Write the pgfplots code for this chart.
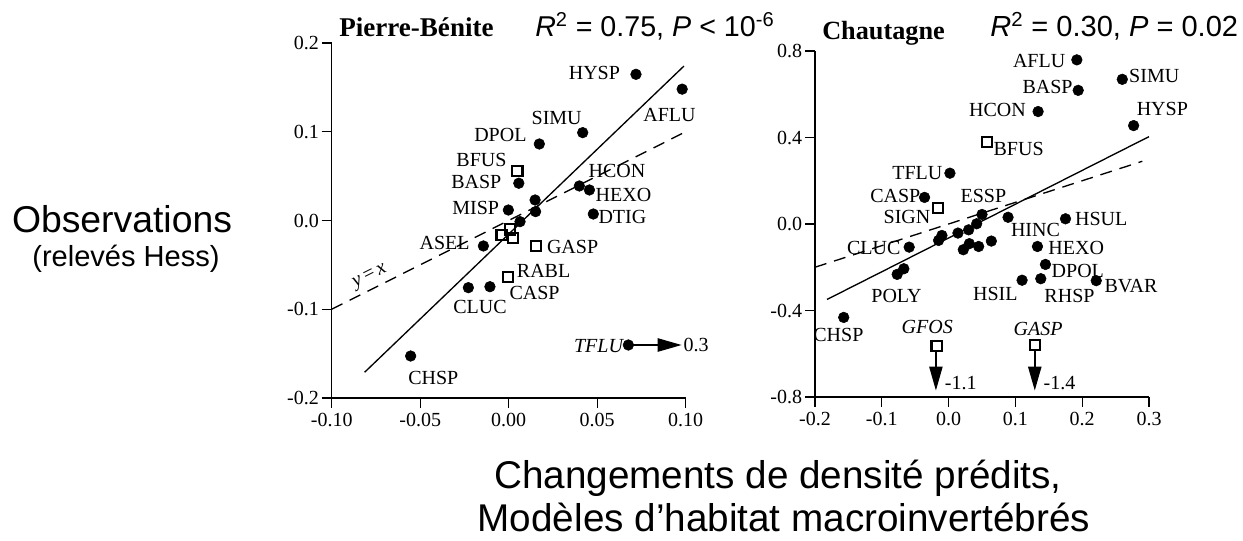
\documentclass[border=0pt]{standalone}
\usepackage{fontspec}
\setmainfont{Liberation Serif}
\newfontfamily\arial{Liberation Sans}
\usepackage{pgfplots}
\pgfplotsset{compat=1.18}
\usetikzlibrary{arrows.meta}
\newcommand{\lab}{\fontsize{15}{18}\selectfont}
\tikzset{lbl/.style={font=\lab, inner sep=0pt}}
\begin{document}
\begin{tikzpicture}
\useasboundingbox (0,0) rectangle (932.25pt,405.75pt);
\pgfplotsset{
  panel/.style={scale only axis, anchor=south west, axis lines=left,
    axis line style={-, line width=0.9pt}, tick align=outside,
    major tick length=7.5pt, tick style={line width=0.9pt, black},
    clip=false, ticklabel style={font=\lab}, yticklabel style={inner sep=2pt}},
  dot/.style={only marks, mark=*, mark size=4pt, black},
  sq/.style={only marks, mark=square, mark size=3.8pt, mark options={line width=1.6pt, fill=white}, black},
}
% ---------------- Pierre-Benite ----------------
\begin{axis}[panel, at={(248.78pt,107.25pt)}, width=265.5pt, height=266.25pt,
  xmin=-0.1, xmax=0.1, ymin=-0.2, ymax=0.2,
  xtick={-0.1,-0.05,0,0.05,0.1}, xticklabels={-0.10,-0.05,0.00,0.05,0.10},
  ytick={-0.2,-0.1,0,0.1,0.2}, yticklabels={-0.2,-0.1,0.0,0.1,0.2}]
\addplot[black, line width=1pt] coordinates {(-0.0814,-0.171) (0.099,0.174)};
\addplot[black, line width=1pt, dash pattern=on 9pt off 6pt] coordinates {(-0.1,-0.1) (0.099,0.099)};
\addplot[black, line width=1.1pt, -{Triangle[length=18pt,width=10pt]}] coordinates {(0.0676,-0.1403) (0.0977,-0.1403)};
\addplot[dot] coordinates {
 (0.0719,0.1647) (0.098,0.148) (0.0418,0.0990) (0.0173,0.0862) (0.0057,0.042)
 (0.0399,0.0389) (0.0456,0.0344) (0.0478,0.0073) (-0.0002,0.0118)
 (0.0149,0.0231) (0.0152,0.0100) (0.0064,-0.0013)
 (-0.0143,-0.0287) (-0.0228,-0.0757) (-0.0106,-0.0746) (-0.0554,-0.1527) (0.0676,-0.1403)};
\addplot[sq] coordinates {
 (0.0049,0.0561) (-0.004,-0.0163) (0.0026,-0.020) (0.0007,-0.010) (0.0154,-0.0287) (-0.0002,-0.0633)};
\node[lbl, anchor=east] at (axis cs:0.063,0.166) {HYSP};
\node[lbl, anchor=west] at (axis cs:0.0759,0.119) {AFLU};
\node[lbl] at (axis cs:0.0271,0.115) {SIMU};
\node[lbl, anchor=east] at (axis cs:0.0102,0.0963) {DPOL};
\node[lbl, anchor=east] at (axis cs:-0.0011,0.068) {BFUS};
\node[lbl, anchor=east] at (axis cs:-0.004,0.0437) {BASP};
\node[lbl, anchor=west] at (axis cs:0.045,0.056) {HCON};
\node[lbl, anchor=west] at (axis cs:0.049,0.029) {HEXO};
\node[lbl, anchor=west] at (axis cs:0.0506,0.0043) {DTIG};
\node[lbl, anchor=east] at (axis cs:-0.0053,0.0137) {MISP};
\node[lbl, anchor=east] at (axis cs:-0.0219,-0.025) {ASEL};
\node[lbl, anchor=west] at (axis cs:0.0215,-0.0295) {GASP};
\node[lbl, anchor=west] at (axis cs:0.0045,-0.0566) {RABL};
\node[lbl, anchor=west] at (axis cs:0.0003,-0.082) {CASP};
\node[lbl] at (axis cs:-0.0162,-0.097) {CLUC};
\node[lbl] at (axis cs:-0.0426,-0.178) {CHSP};
\node[lbl, anchor=east, font=\lab\itshape] at (axis cs:0.0647,-0.1415) {TFLU};
\node[lbl, anchor=west] at (axis cs:0.0986,-0.14) {0.3};
\node[lbl, rotate=26.6] at (axis cs:-0.0782,-0.064) {\textit{y}\,=\,\textit{x}};
\end{axis}
% ---------------- Chautagne ----------------
\begin{axis}[panel, at={(611.25pt,108pt)}, width=250.5pt, height=259.5pt,
  xmin=-0.2, xmax=0.3, ymin=-0.8, ymax=0.8,
  xtick={-0.2,-0.1,0,0.1,0.2,0.3}, xticklabels={-0.2,-0.1,0.0,0.1,0.2,0.3},
  ytick={-0.8,-0.4,0,0.4,0.8}, yticklabels={-0.8,-0.4,0.0,0.4,0.8}]
\addplot[black, line width=1pt] coordinates {(-0.182,-0.349) (0.3,0.404)};
\addplot[black, line width=1pt, dash pattern=on 9pt off 6pt] coordinates {(-0.2,-0.2) (0.29,0.29)};
\addplot[black, line width=1.1pt, -{Triangle[length=18pt,width=10pt]}] coordinates {(-0.019,-0.59) (-0.019,-0.77)};
\addplot[black, line width=1.1pt, -{Triangle[length=18pt,width=10pt]}] coordinates {(0.129,-0.585) (0.129,-0.77)};
\addplot[dot] coordinates {
 (0.192,0.759) (0.194,0.618) (0.26,0.669) (0.134,0.52) (0.277,0.455) (0.002,0.235)
 (-0.036,0.123) (0.050,0.044) (0.089,0.031) (0.175,0.024)
 (0.042,0.001) (0.030,-0.027) (0.014,-0.042) (-0.010,-0.053) (-0.015,-0.076)
 (0.031,-0.091) (0.045,-0.104) (0.022,-0.119) (0.064,-0.079)
 (-0.059,-0.107) (0.133,-0.104) (0.145,-0.187) (-0.067,-0.207) (-0.077,-0.233)
 (0.110,-0.26) (0.138,-0.253) (0.221,-0.262) (-0.157,-0.432)};
\addplot[sq] coordinates {(0.057,0.378) (-0.016,0.073) (-0.018,-0.565) (0.129,-0.56)};
\node[lbl, anchor=east] at (axis cs:0.175,0.752) {AFLU};
\node[lbl, anchor=east] at (axis cs:0.186,0.632) {BASP};
\node[lbl, anchor=west] at (axis cs:0.27,0.684) {SIMU};
\node[lbl, anchor=east] at (axis cs:0.116,0.527) {HCON};
\node[lbl] at (axis cs:0.32,0.534) {HYSP};
\node[lbl, anchor=west] at (axis cs:0.067,0.349) {BFUS};
\node[lbl, anchor=east] at (axis cs:-0.009,0.235) {TFLU};
\node[lbl, anchor=east] at (axis cs:-0.042,0.128) {CASP};
\node[lbl, anchor=east] at (axis cs:-0.027,0.031) {SIGN};
\node[lbl] at (axis cs:0.052,0.128) {ESSP};
\node[lbl] at (axis cs:0.13,-0.029) {HINC};
\node[lbl, anchor=west] at (axis cs:0.189,0.025) {HSUL};
\node[lbl] at (axis cs:-0.112,-0.113) {CLUC};
\node[lbl, anchor=west] at (axis cs:0.149,-0.111) {HEXO};
\node[lbl, anchor=west] at (axis cs:0.154,-0.215) {DPOL};
\node[lbl] at (axis cs:-0.078,-0.331) {POLY};
\node[lbl] at (axis cs:0.07,-0.323) {HSIL};
\node[lbl] at (axis cs:0.181,-0.331) {RHSP};
\node[lbl, anchor=west] at (axis cs:0.233,-0.286) {BVAR};
\node[lbl] at (axis cs:-0.165,-0.515) {CHSP};
\node[lbl, font=\lab\itshape] at (axis cs:-0.032,-0.478) {GFOS};
\node[lbl, font=\lab\itshape] at (axis cs:0.134,-0.485) {GASP};
\node[lbl, anchor=west] at (axis cs:-0.006,-0.734) {-1.1};
\node[lbl, anchor=west] at (axis cs:0.142,-0.734) {-1.4};
\end{axis}
% ---------------- titles and labels ----------------
\node[anchor=base west, inner sep=0pt, font=\fontsize{20.3}{23}\selectfont\bfseries] at (254.25pt,378.5pt) {Pierre-Bénite};
\node[anchor=base west, inner sep=0pt, font=\arial\fontsize{21.5}{25}\selectfont] at (401.25pt,378.5pt) {\textit{R}\textsuperscript{2} = 0.75, \textit{P} < 10\textsuperscript{-6}};
\node[anchor=base west, inner sep=0pt, font=\fontsize{19.7}{23}\selectfont\bfseries] at (616.5pt,375.75pt) {Chautagne};
\node[anchor=base west, inner sep=0pt, font=\arial\fontsize{21.8}{25}\selectfont] at (742.5pt,378.5pt) {\textit{R}\textsuperscript{2} = 0.30, \textit{P} = 0.02};
\node[inner sep=0pt, font=\arial\fontsize{28}{32}\selectfont] at (91.5pt,241.5pt) {Observations};
\node[inner sep=0pt, font=\arial\fontsize{21.8}{25}\selectfont] at (94.5pt,211.5pt) {(relevés Hess)};
\node[inner sep=0pt, font=\arial\fontsize{29}{34}\selectfont] at (583.5pt,47.25pt) {Changements de densité prédits,};
\node[inner sep=0pt, font=\arial\fontsize{29}{34}\selectfont] at (588pt,18pt) {Modèles d’habitat macroinvertébrés};
\end{tikzpicture}
\end{document}
